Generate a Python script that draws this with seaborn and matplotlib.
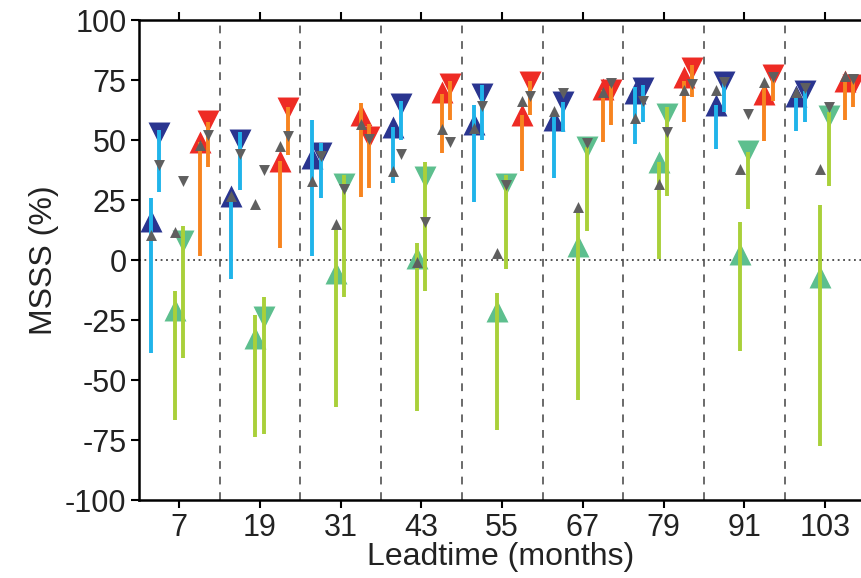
import matplotlib
matplotlib.use("Agg")
import matplotlib.pyplot as plt
import seaborn as sns
import numpy as np
import pandas as pd

# ---- data -------------------------------------------------------------
leadtimes = [7, 19, 31, 43, 55, 67, 79, 91, 103]
tick_labels = ["7", "19", "31", "43", "55", "67", "79", "91", "103"]
yticks = [-100, -75, -50, -25, 0, 25, 50, 75, 100]

# blue, upward triangle
blue_up_val = [16.4, 26.8, 42.4, 55.3, 56.7, 58.5, 69.7, 64.7, 68.5]
blue_up_lo = [-38.8, -7.9, 1.5, 32.0, 24.3, 34.2, 48.3, 46.3, 53.9]
blue_up_hi = [25.7, 26.8, 58.5, 55.3, 64.6, 60.1, 72.2, 64.7, 68.5]
blue_up_gray = [10.4, 26.8, 32.8, 36.9, 54.9, 62.2, 59.0, 71.0, 70.1]

# blue, downward triangle
blue_dn_val = [52.9, 50.1, 44.4, 65.0, 69.0, 65.7, 71.5, 74.3, 70.4]
blue_dn_lo = [28.5, 29.3, 25.7, 50.1, 50.0, 53.2, 57.6, 61.8, 57.6]
blue_dn_hi = [54.2, 53.2, 48.6, 66.4, 72.9, 66.0, 72.9, 76.1, 70.6]
blue_dn_gray = [39.7, 44.2, 43.5, 44.2, 64.0, 69.4, 66.4, 74.0, 71.5]

# green, upward triangle
green_up_val = [-21.0, -32.6, -5.4, 0.7, -21.1, 6.0, 40.7, 2.6, -7.0]
green_up_lo = [-66.5, -73.9, -61.4, -62.8, -70.8, -58.3, 0.4, -37.8, -77.4]
green_up_hi = [-12.8, -22.9, 12.9, 6.9, -13.9, 19.9, 40.7, 15.7, 22.9]
green_up_gray = [11.8, 23.3, 15.0, -1.0, 2.8, 22.2, 31.7, 37.9, 37.9]

# green, downward triangle
green_dn_val = [7.8, -23.9, 31.7, 34.7, 31.8, 46.9, 61.0, 45.5, 59.9]
green_dn_lo = [-40.8, -72.5, -15.3, -13.0, -3.75, 12.2, 26.8, 21.25, 30.7]
green_dn_hi = [14.3, -15.6, 35.4, 40.7, 35.4, 47.0, 63.6, 44.9, 61.5]
green_dn_gray = [33.0, 37.6, 29.6, 16.0, 31.2, 48.75, 53.2, 60.8, 63.6]

# red, upward triangle
red_up_val = [49.0, 41.1, 60.4, 70.1, 60.4, 71.2, 76.3, 69.3, 74.7]
red_up_lo = [1.5, 5.0, 26.4, 44.4, 37.2, 49.0, 57.6, 49.7, 58.5]
red_up_hi = [49.0, 41.1, 65.4, 69.0, 60.4, 71.0, 74.7, 72.6, 74.0]
red_up_gray = [47.9, 47.6, 56.7, 54.6, 66.4, 70.1, 71.0, 74.3, 76.8]

# red, downward triangle
red_dn_val = [58.0, 63.3, 51.1, 73.3, 74.3, 71.0, 80.0, 77.1, 72.9]
red_dn_lo = [38.9, 43.75, 30.0, 58.3, 60.6, 56.2, 67.8, 66.4, 63.6]
red_dn_hi = [57.6, 63.6, 56.7, 74.7, 74.7, 72.4, 81.2, 77.5, 76.1]
red_dn_gray = [52.0, 51.8, 50.4, 49.0, 68.5, 73.75, 73.3, 76.1, 75.4]

# ---- styling ----------------------------------------------------------
sns.set_style("ticks")
plt.rcParams["font.family"] = ["Liberation Sans", "DejaVu Sans"]

NAVY, CYAN = "#2a3590", "#20b4ea"
MINT, LIME = "#5dbf8e", "#a9d03a"
RED, ORANGE = "#ee2b24", "#f7841f"
GRAY = "#5f5f5f"

series = [
    # (val, lo, hi, gray, offset, marker, marker color, bar color)
    (blue_up_val, blue_up_lo, blue_up_hi, blue_up_gray, -4.25, "^", NAVY, CYAN),
    (blue_dn_val, blue_dn_lo, blue_dn_hi, blue_dn_gray, -3.0, "v", NAVY, CYAN),
    (green_up_val, green_up_lo, green_up_hi, green_up_gray, -0.7, "^", MINT, LIME),
    (green_dn_val, green_dn_lo, green_dn_hi, green_dn_gray, 0.55, "v", MINT, LIME),
    (red_up_val, red_up_lo, red_up_hi, red_up_gray, 3.0, "^", RED, ORANGE),
    (red_dn_val, red_dn_lo, red_dn_hi, red_dn_gray, 4.2, "v", RED, ORANGE),
]

fig = plt.figure(figsize=(8.62, 5.78), dpi=100)
ax = fig.add_axes([139 / 862, 78 / 578, 1 - 139 / 862, 480 / 578])

lt = np.array(leadtimes, dtype=float)

# separators and zero line
for b in lt[:-1] + 6:
    ax.axvline(b, color="#6a6a6a", ls=(0, (4, 4)), lw=1.4, zorder=1)
ax.axhline(0, color="#444444", ls=(0, (1, 2)), lw=1.3, zorder=1)

# colored triangles
for val, lo, hi, gray, off, mk, mc, bc in series:
    df = pd.DataFrame({"x": lt + off, "y": val})
    sns.scatterplot(data=df, x="x", y="y", marker=mk, color=mc, s=250,
                    linewidth=0, ax=ax, zorder=3, legend=False)
# bars
for val, lo, hi, gray, off, mk, mc, bc in series:
    ax.vlines(lt + off, lo, hi, color=bc, lw=2.8, zorder=4)
# gray triangles
for val, lo, hi, gray, off, mk, mc, bc in series:
    df = pd.DataFrame({"x": lt + off, "y": gray})
    sns.scatterplot(data=df, x="x", y="y", marker=mk, color=GRAY, s=62,
                    linewidth=0, ax=ax, zorder=5, legend=False)

ax.set_xlim(1, 108.5)
ax.set_ylim(-100, 100)
ax.set_xticks(leadtimes)
ax.set_xticklabels(tick_labels)
ax.set_yticks(yticks)
ax.set_yticklabels([str(v) for v in yticks])
ax.tick_params(axis="both", labelsize=22, direction="out", length=6, width=1.5,
               color="black", labelcolor="#222222", pad=3)
ax.tick_params(axis="x", top=True, labeltop=False)
for s in ["left", "bottom", "top"]:
    ax.spines[s].set_visible(True)
    ax.spines[s].set_linewidth(1.8)
    ax.spines[s].set_color("black")
ax.spines["right"].set_visible(False)
ax.set_xlabel("Leadtime (months)", fontsize=23, color="#222222", labelpad=0)
ax.set_ylabel("MSSS (%)", fontsize=23, color="#222222", labelpad=4)

fig.savefig("out.png", dpi=100)
